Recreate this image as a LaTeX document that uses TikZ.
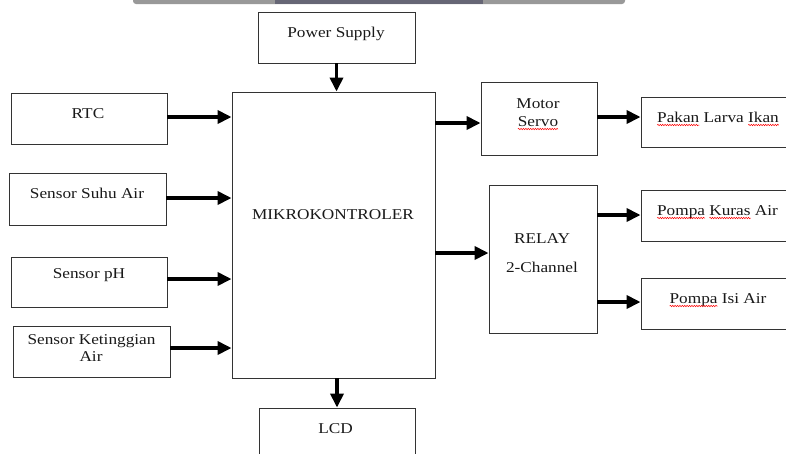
\documentclass[tikz,border=0pt]{standalone}
\usepackage{fontspec}
\setmainfont{Liberation Serif}[FakeStretch=1.15]
\usetikzlibrary{arrows.meta,calc,decorations.pathmorphing}
\newcommand\rw[1]{\tikz[baseline=(w.base)]{\node[inner sep=0pt,outer sep=0pt,anchor=center,draw=none] (w) {#1};%
  \draw[overlay,red,line width=0.5pt,decorate,decoration={snake,amplitude=0.7pt,segment length=2.4pt}] ([yshift=-3pt]w.base west) -- ([yshift=-3pt]w.base east);}}
\begin{document}
\begin{tikzpicture}[x=1pt,y=-1pt,
  box/.style={draw=black!80,line width=0.9pt,rectangle,inner sep=0pt},
  lbl/.style={anchor=base,inner sep=0pt,font=\fontsize{15}{17.5}\selectfont,text=black!90},
  arr/.style={line width=3.5pt,-{Triangle[length=14pt,width=13pt]}}]
\useasboundingbox (0,0) rectangle (786,453);
\clip (0,0) rectangle (786,453);
% top bar
\fill[black!40,rounded corners=3pt] (133,-5) rectangle (625,4);
\fill[black!40] (133,-5) rectangle (625,0);
\fill[black!70!blue!20!gray] (275,-1) rectangle (483,4);
% boxes
\node[box,minimum width=157pt,minimum height=51pt] (power) at (336.5,37.5) {};
\node[box,minimum width=203pt,minimum height=286pt] (mcu) at (333.5,235) {};
\node[box,minimum width=156pt,minimum height=60pt] (lcd) at (337,438) {};
\node[box,minimum width=156pt,minimum height=51pt] (rtc) at (89,118.5) {};
\node[box,minimum width=157pt,minimum height=52pt] (suhu) at (87.5,199) {};
\node[box,minimum width=156pt,minimum height=50pt] (ph) at (89,282) {};
\node[box,minimum width=157pt,minimum height=51pt] (ket) at (91.5,351.5) {};
\node[box,minimum width=116pt,minimum height=73pt] (motor) at (539,118.5) {};
\node[box,minimum width=108pt,minimum height=148pt] (relay) at (543,259) {};
\node[box,minimum width=160pt,minimum height=50pt] (pakan) at (721,122) {};
\node[box,minimum width=160pt,minimum height=51pt] (kuras) at (721,215.5) {};
\node[box,minimum width=160pt,minimum height=51pt] (isi) at (721,303.5) {};
% labels
\node[lbl] (tpower) at (336,37) {Power Supply};
\node[lbl] (tmcu) at (333,219) {MIKROKONTROLER};
\node[lbl] (tlcd) at (335.5,433) {LCD};
\node[lbl] (trtc) at (88,118) {RTC};
\node[lbl] (tsuhu) at (87,198) {Sensor Suhu Air};
\node[lbl] (tph) at (89,278) {Sensor pH};
\node[lbl] (tket1) at (91.5,344) {Sensor Ketinggian};
\node[lbl] (tket2) at (91,361) {Air};
\node[lbl] (tmotor1) at (538,108) {Motor};
\node[lbl] (tmotor2) at (538,126) {\rw{Servo}};
\node[lbl] (trelay1) at (542,243) {RELAY};
\node[lbl] (trelay2) at (542,272) {2-Channel};
\node[lbl] (tpakan) at (718,122) {\rw{Pakan} Larva \rw{Ikan}};
\node[lbl] (tkuras) at (717.5,215) {\rw{Pompa} \rw{Kuras} Air};
\node[lbl] (tisi) at (718,303) {\rw{Pompa} Isi Air};
% arrows
\draw[arr] (power.south) -- (power.south |- mcu.north);
\draw[arr] (mcu.south -| lcd.north) -- (lcd.north);
\draw[arr] ([yshift=1.5pt]rtc.east) -- ([yshift=1.5pt]rtc.east -| mcu.west);
\draw[arr] ([yshift=1pt]suhu.east) -- ([yshift=1pt]suhu.east -| mcu.west);
\draw[arr] ([yshift=3pt]ph.east) -- ([yshift=3pt]ph.east -| mcu.west);
\draw[arr] ([yshift=3.5pt]ket.east) -- ([yshift=3.5pt]ket.east -| mcu.west);
\draw[arr] ([yshift=-4.5pt]motor.west -| mcu.east) -- ([yshift=-4.5pt]motor.west);
\draw[arr] ([yshift=6pt]relay.west -| mcu.east) -- ([yshift=6pt]relay.west);
\draw[arr] ([yshift=1.5pt]motor.east) -- ([yshift=1.5pt]motor.east -| pakan.west);
\draw[arr] ([yshift=0.5pt]kuras.west -| relay.east) -- ([yshift=0.5pt]kuras.west);
\draw[arr] ([yshift=1.5pt]isi.west -| relay.east) -- ([yshift=1.5pt]isi.west);
\end{tikzpicture}
\end{document}
